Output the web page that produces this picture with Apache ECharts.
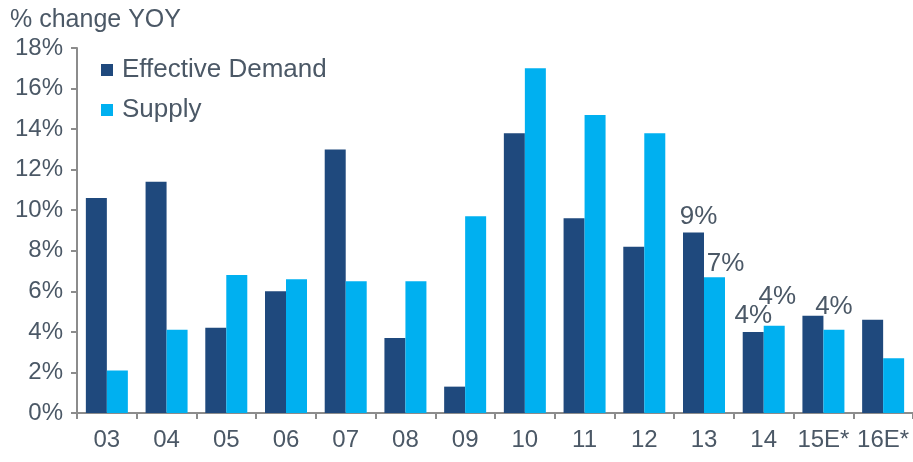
<!DOCTYPE html>
<html>
<head>
<meta charset="utf-8">
<script src="https://cdn.jsdelivr.net/npm/echarts@6/dist/echarts.min.js"></script>
<style>
  html, body { margin: 0; padding: 0; background: #fff; }
  #chart { width: 913px; height: 462px; }
</style>
</head>
<body>
<div id="chart"></div>
<script>
// 有效需求 vs 供给，同比变化
const years = ['03', '04', '05', '06', '07', '08', '09', '10', '11', '12', '13', '14', '15E*', '16E*']
const demand = [10.6, 11.4, 4.2, 6.0, 13.0, 3.7, 1.3, 13.8, 9.6, 8.2, 8.9, 4.0, 4.8, 4.6]
const supply = [2.1, 4.1, 6.8, 6.6, 6.5, 6.5, 9.7, 17.0, 14.7, 13.8, 6.7, 4.3, 4.1, 2.7]
const demandLabels = ['', '', '', '', '', '', '', '', '', '', '9%', '4%', '', '']
const supplyLabels = ['', '', '', '', '', '', '', '', '', '', '7%', '4%', '4%', '']
const yTicks = [0, 2, 4, 6, 8, 10, 12, 14, 16, 18]

const textColor = '#4B5866'
const axisColor = '#8C8C8C'

// 标签位置微调（只对有标签的柱子）
const demandLabelOffset = { 10: [5, 0, 3], 11: [0, 0, 3] }
const supplyLabelOffset = { 10: [11, 0, 0], 11: [3, 0, 16], 12: [0, 0, 10] }

const buildData = (values, labels, offsets) =>
  values.map((v, i) => {
    if (!labels[i]) return v
    const o = offsets[i] || [0, 0, 3]
    return {
      value: v,
      label: {
        show: true,
        position: 'top',
        formatter: labels[i],
        offset: [o[0], o[1]],
        distance: o[2],
        fontSize: 26,
        color: textColor,
        fontFamily: 'Liberation Sans'
      }
    }
  })

const chart = echarts.init(document.getElementById('chart'))
chart.setOption({
  animation: false,
  textStyle: { fontFamily: 'Liberation Sans' },
  title: {
    text: '% change YOY',
    left: 5,
    top: 3,
    textStyle: { fontSize: 25, fontWeight: 'normal', color: textColor }
  },
  legend: {
    orient: 'vertical',
    left: 101,
    top: 56,
    padding: 0,
    itemWidth: 12,
    itemHeight: 12,
    itemGap: 12,
    icon: 'rect',
    data: ['Effective Demand', 'Supply'],
    textStyle: { fontSize: 26, color: textColor, lineHeight: 28, padding: [0, 0, 0, 4] }
  },
  grid: { left: 77, right: 0, top: 48, bottom: 49, containLabel: false },
  xAxis: {
    type: 'category',
    data: years,
    axisLine: { lineStyle: { color: axisColor, width: 2 } },
    axisTick: { show: true, length: 6, lineStyle: { color: axisColor, width: 2 } },
    axisLabel: { fontSize: 24, color: textColor, margin: 15, interval: 0 }
  },
  yAxis: {
    type: 'value',
    min: yTicks[0],
    max: yTicks[yTicks.length - 1],
    interval: 2,
    axisLine: { show: true, lineStyle: { color: axisColor, width: 2 } },
    axisTick: { show: true, length: 6, lineStyle: { color: axisColor, width: 2 } },
    splitLine: { show: false },
    axisLabel: { fontSize: 24, color: textColor, margin: 14, formatter: '{value}%' }
  },
  series: [
    {
      name: 'Effective Demand',
      type: 'bar',
      barWidth: 21,
      barGap: '0%',
      itemStyle: { color: '#1F497D' },
      data: buildData(demand, demandLabels, demandLabelOffset)
    },
    {
      name: 'Supply',
      type: 'bar',
      barWidth: 21,
      barGap: '0%',
      itemStyle: { color: '#00B0F0' },
      data: buildData(supply, supplyLabels, supplyLabelOffset)
    }
  ]
})
</script>
</body>
</html>
